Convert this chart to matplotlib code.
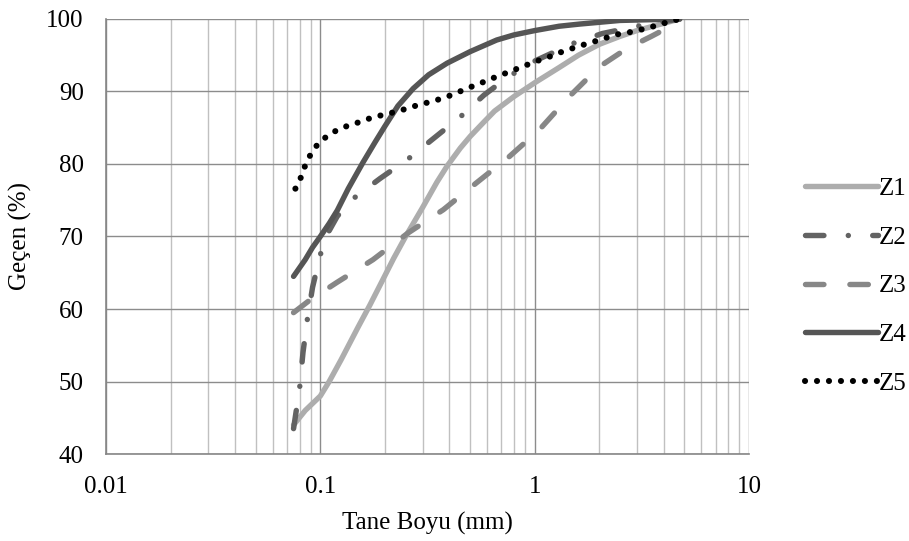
import matplotlib.pyplot as plt
from matplotlib.ticker import LogLocator, FixedLocator, NullFormatter

plt.rcParams['font.family'] = ['Liberation Serif', 'DejaVu Serif']

# grain size distribution curves
z1_x = [0.075, 0.085, 0.1, 0.11, 0.125, 0.15, 0.17, 0.19, 0.22, 0.25, 0.3, 0.35, 0.39, 0.45, 0.5, 0.58,
        0.65, 0.8, 1.0, 1.3, 1.6, 2.0, 2.5, 3.0, 4.0, 4.75]
z1_y = [44, 46, 48, 50, 53, 57.5, 60.5, 63.3, 67, 70, 74, 77.5, 79.7, 82.2, 83.8, 85.8,
        87.3, 89.3, 91.2, 93.3, 95, 96.5, 97.6, 98.4, 99.4, 100]

z2_x = [0.075, 0.08, 0.083, 0.087, 0.092, 0.1, 0.11, 0.12, 0.145, 0.19, 0.257, 0.34, 0.45, 0.58,
        0.75, 1.0, 1.5, 2.07, 3.0, 4.75]
z2_y = [43.5, 49, 54, 58.6, 63, 67.5, 70.8, 72.8, 75.4, 78, 80.7, 83.6, 86.5, 89.5,
        92, 94.2, 96.6, 98, 99, 100]

z3_x = [0.075, 0.09, 0.12, 0.176, 0.257, 0.375, 0.535, 0.76, 1.05, 1.45, 2.0, 2.5, 2.9, 3.5, 4.0, 4.75]
z3_y = [59.5, 61.3, 63.7, 66.8, 70.5, 73.7, 77.4, 81, 84.7, 89.3, 93.4, 95.3, 96.4, 97.6, 98.5, 100]

z4_x = [0.075, 0.085, 0.092, 0.1, 0.11, 0.12, 0.135, 0.158, 0.18, 0.2, 0.23, 0.271, 0.32, 0.39, 0.5,
        0.665, 0.8, 1.0, 1.3, 1.62, 2.5, 4.75]
z4_y = [64.5, 66.8, 68.5, 70, 71.8, 73.6, 76.6, 80.2, 83, 85.2, 88, 90.4, 92.3, 93.9, 95.5,
        97.1, 97.8, 98.4, 99, 99.3, 99.8, 100]

z5_x = [0.0765, 0.081, 0.085, 0.09, 0.097, 0.107, 0.12, 0.135, 0.153, 0.174, 0.198, 0.225, 0.257,
        0.29, 0.33, 0.375, 0.425, 0.48, 0.545, 0.62, 0.7, 0.79, 0.89, 1.0, 1.15, 1.29, 1.48, 1.67,
        1.9, 2.15, 2.45, 2.8, 3.2, 3.6, 4.1, 4.75]
z5_y = [76.6, 78.1, 79.8, 81.3, 82.7, 83.8, 84.7, 85.3, 85.8, 86.4, 86.8, 87.2, 87.7,
        88.2, 88.6, 89.1, 89.7, 90.4, 91, 91.7, 92.3, 92.9, 93.5, 94.1, 94.7, 95.3, 95.9, 96.4,
        96.9, 97.4, 97.9, 98.2, 98.6, 99, 99.5, 100]

fig = plt.figure(figsize=(9.09, 5.41), dpi=100)
ax = fig.add_axes([0.1166, 0.1608, 0.7074, 0.8041])

ax.plot(z1_x, z1_y, color='#ADADAD', lw=3.9, solid_capstyle='round', solid_joinstyle='round', label='Z1')
ax.plot(z2_x, z2_y, color='#636363', lw=3.9, linestyle=(0, (3.4, 4.5, 0.01, 4.5)),
        dash_capstyle='round', label='Z2')
ax.plot(z3_x, z3_y, color='#878787', lw=3.9, linestyle=(0, (3.4, 4.8)),
        dash_capstyle='round', label='Z3')
ax.plot(z4_x, z4_y, color='#555555', lw=3.9, solid_capstyle='round', solid_joinstyle='round', label='Z4')
ax.plot(z5_x, z5_y, color='black', lw=4.4, linestyle=(0, (0.01, 1.95)),
        dash_capstyle='round', label='Z5')

ax.set_xscale('log')
ax.set_xlim(0.01, 10)
ax.set_ylim(40, 100)
ax.xaxis.set_major_locator(FixedLocator([0.01, 0.1, 1, 10]))
ax.xaxis.set_minor_locator(LogLocator(base=10, subs=range(2, 10)))
ax.xaxis.set_minor_formatter(NullFormatter())
ax.set_xticklabels(['0.01', '0.1', '1', '10'])
ax.set_yticks(range(40, 101, 10))

ax.grid(True, which='major', color='#8C8C8C', lw=1.0)
ax.grid(True, which='minor', axis='x', color='#C0C0C0', lw=1.0)
ax.set_axisbelow(True)

for s in ['top', 'right']:
    ax.spines[s].set_visible(False)
for s in ['left', 'bottom']:
    ax.spines[s].set_color('#868686')
    ax.spines[s].set_linewidth(1.2)

ax.tick_params(which='both', length=0, labelsize=18)
ax.tick_params(axis='x', pad=16)
ax.tick_params(axis='y', pad=16)

ax.set_xlabel('Tane Boyu (mm)', fontsize=18, labelpad=10)
ax.set_ylabel('Geçen (%)', fontsize=18, labelpad=10)

ax.legend(loc='center left', bbox_to_anchor=(1.0, 0.386), frameon=False, fontsize=18,
          handlelength=2.9, handletextpad=0.05, labelspacing=1.05, borderaxespad=1.84)

plt.savefig('out.png', dpi=100)
